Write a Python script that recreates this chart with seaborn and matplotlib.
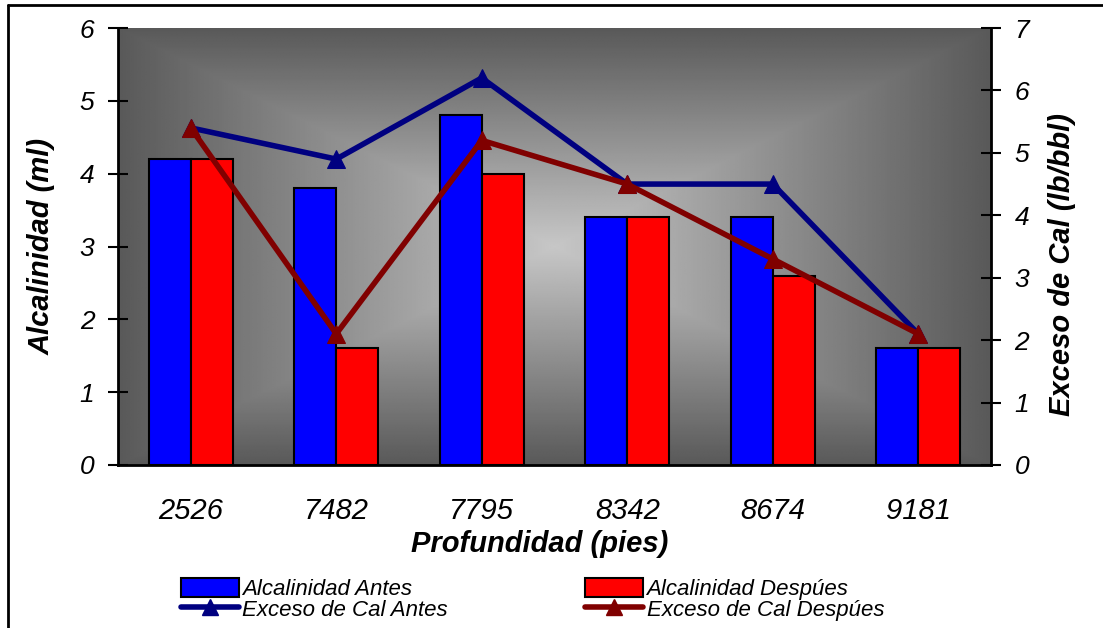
import numpy as np
import pandas as pd
import matplotlib
matplotlib.use("Agg")
import matplotlib.pyplot as plt
import seaborn as sns
from matplotlib.patches import Patch
from matplotlib.lines import Line2D

# ---- data ----
profundidad = ["2526", "7482", "7795", "8342", "8674", "9181"]
alc_antes = [4.2, 3.8, 4.8, 3.4, 3.4, 1.6]
alc_despues = [4.2, 1.6, 4.0, 3.4, 2.6, 1.6]
cal_antes = [5.4, 4.9, 6.2, 4.5, 4.5, 2.1]
cal_despues = [5.4, 2.1, 5.2, 4.5, 3.3, 2.1]
serie_bar = ["Alcalinidad Antes", "Alcalinidad Despúes"]
serie_line = ["Exceso de Cal Antes", "Exceso de Cal Despúes"]
y_left_ticks = [0, 1, 2, 3, 4, 5, 6]
y_right_ticks = [0, 1, 2, 3, 4, 5, 6, 7]

sns.set_theme(style="white")
plt.rcParams['font.family'] = ['Liberation Sans', 'DejaVu Sans']
plt.rcParams['text.color'] = 'black'
plt.rcParams['axes.labelcolor'] = 'black'
plt.rcParams['xtick.color'] = 'black'
plt.rcParams['ytick.color'] = 'black'

df = pd.DataFrame({
    "prof": profundidad * 2,
    "val": alc_antes + alc_despues,
    "serie": [serie_bar[0]] * 6 + [serie_bar[1]] * 6,
})

fig = plt.figure(figsize=(11.03, 6.28), dpi=100)
ax = fig.add_axes([118 / 1103, 1 - 465 / 628, (991 - 118) / 1103, (465 - 28) / 628])

# background gradient (rectangular, from center)
n = 400
u = np.linspace(-1, 1, n)
U, V = np.meshgrid(u, u)
t = np.maximum(np.abs(U), np.abs(V))
light, dark = 0.78, 0.35
img = light + (dark - light) * t
ax.imshow(img, cmap="gray", vmin=0, vmax=1, extent=[-0.5, 5.5, 0, 6],
          aspect="auto", zorder=0, interpolation="bilinear")

bar_colors = ["#0000FF", "#FF0000"]
sns.barplot(data=df, x="prof", y="val", hue="serie", order=profundidad,
            hue_order=serie_bar, palette=bar_colors, width=0.58, gap=0,
            edgecolor="black", linewidth=1.5, saturation=1, ax=ax,
            legend=False, zorder=2)

ax.set_xlim(-0.5, 5.5)
ax.set_ylim(0, 6)
ax.set_yticks(y_left_ticks)
ax.set_yticklabels([str(v) for v in y_left_ticks], fontsize=19, style="italic")
ax.set_xticks(range(len(profundidad)))
ax.set_xticklabels(profundidad, fontsize=21, style="italic")
ax.set_xticks(np.arange(-0.5, 6, 1), minor=True)
ax.tick_params(axis="x", which="major", length=0, pad=23)
ax.tick_params(axis="x", which="minor", length=13, width=1.5, direction="inout")
ax.tick_params(axis="y", length=14, width=1.5, direction="inout", pad=10)
ax.set_xlabel("Profundidad (pies)", fontsize=21, weight="bold", style="italic")
ax.xaxis.set_label_coords((540 - 118) / 873, -(530 - 465) / 437)
ax.set_ylabel("Alcalinidad (ml)", fontsize=21, weight="bold", style="italic")
ax.yaxis.set_label_coords((56 - 118) / 873, 0.5)
for s in ["top", "right"]:
    ax.spines[s].set_visible(False)
for s in ["left", "bottom"]:
    ax.spines[s].set_color("black")
    ax.spines[s].set_linewidth(2)

ax2 = ax.twinx()
ax2.patch.set_visible(False)
line_colors = ["#000080", "#800000"]
xpos = list(range(len(profundidad)))
sns.lineplot(x=xpos, y=cal_antes, color=line_colors[0], lw=4, marker="^",
             markersize=13, markeredgecolor=line_colors[0], ax=ax2)
sns.lineplot(x=xpos, y=cal_despues, color=line_colors[1], lw=4, marker="^",
             markersize=13, markeredgecolor=line_colors[1], ax=ax2)
ax2.set_xlim(-0.5, 5.5)
ax2.set_ylim(0, 7)
ax2.set_yticks(y_right_ticks)
ax2.set_yticklabels([str(v) for v in y_right_ticks], fontsize=19, style="italic")
ax2.tick_params(axis="y", length=14, width=1.5, direction="inout", pad=10)
ax2.set_ylabel("Exceso de Cal (lb/bbl)", fontsize=21, weight="bold", style="italic")
ax2.yaxis.set_label_coords((1048 - 118) / 873, (465 - 265) / 437)
for s in ["top", "left", "bottom"]:
    ax2.spines[s].set_visible(False)
ax2.spines["right"].set_color("black")
ax2.spines["right"].set_linewidth(2)
ax2.grid(False)
ax.grid(False)

handles = [
    Patch(facecolor=bar_colors[0], edgecolor="black", linewidth=1.5),
    Line2D([], [], color=line_colors[0], lw=4, marker="^", markersize=11),
    Patch(facecolor=bar_colors[1], edgecolor="black", linewidth=1.5),
    Line2D([], [], color=line_colors[1], lw=4, marker="^", markersize=11),
]
labels = [serie_bar[0], serie_line[0], serie_bar[1], serie_line[1]]
leg = fig.legend(handles, labels, ncol=2, loc="lower left",
                 bbox_to_anchor=(172 / 1103, -0.0025), frameon=False,
                 prop={"size": 16, "style": "italic"}, handlelength=2.6,
                 handleheight=0.9, handletextpad=0.15, columnspacing=6.2,
                 labelspacing=-0.07, borderaxespad=0)

# figure border (left and top visible)
fig.add_artist(Line2D([8 / 1103, 8 / 1103], [0, 1 - 5 / 628], color="black", lw=2,
                      transform=fig.transFigure))
fig.add_artist(Line2D([8 / 1103, 1], [1 - 5 / 628, 1 - 5 / 628], color="black", lw=2,
                      transform=fig.transFigure))

fig.savefig("out.png", dpi=100)
